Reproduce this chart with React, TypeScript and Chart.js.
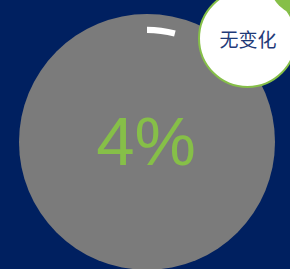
import React, { useEffect, useRef } from "react";
import { Chart, registerables } from "chart.js";

Chart.register(...registerables);

const categories = ["变化", "其余"];
const values = [4, 96];
const centerLabel = "4%";
const badgeLabel = "无变化";

const BG = "#002060";
const GRAY = "#7b7b7b";
const GREEN = "#86bf48";

const discPlugin = {
  id: "disc",
  beforeDatasetsDraw(chart: any) {
    const { ctx, chartArea } = chart;
    const cx = (chartArea.left + chartArea.right) / 2;
    const cy = (chartArea.top + chartArea.bottom) / 2;
    const r = Math.min(chartArea.width, chartArea.height) / 2;
    ctx.save();
    ctx.beginPath();
    ctx.arc(cx, cy, r, 0, Math.PI * 2);
    ctx.fillStyle = GRAY;
    ctx.fill();
    ctx.restore();
  },
};

export default function App() {
  const ref = useRef<HTMLCanvasElement>(null);
  useEffect(() => {
    const chart = new Chart(ref.current!, {
      type: "doughnut",
      data: {
        labels: categories,
        datasets: [
          {
            data: values,
            backgroundColor: ["#ffffff", "rgba(0,0,0,0)"],
            borderWidth: 0,
            radius: "90%",
            cutout: "94.6%",
          } as any,
        ],
      },
      options: {
        animation: false,
        responsive: false,
        maintainAspectRatio: false,
        layout: { padding: 0 },
        plugins: { legend: { display: false }, tooltip: { enabled: false } },
      },
      plugins: [discPlugin],
    });
    return () => chart.destroy();
  }, []);

  return (
    <div
      style={{
        position: "fixed",
        left: 0,
        top: 0,
        width: 290,
        height: 269,
        background: BG,
        overflow: "hidden",
      }}
    >
      <canvas
        ref={ref}
        width={256}
        height={256}
        style={{ position: "absolute", left: 19, top: 14, width: 256, height: 256 }}
      />
      <div
        style={{
          position: "absolute",
          left: 46,
          top: 142 - 50,
          width: 200,
          height: 100,
          display: "flex",
          alignItems: "center",
          justifyContent: "center",
          color: GREEN,
          fontFamily: "'Liberation Sans', Arial, sans-serif",
          fontSize: 69,
          lineHeight: "100px",
        }}
      >
        {centerLabel}
      </div>
      <div
        style={{
          position: "absolute",
          left: 198,
          top: -11,
          width: 99,
          height: 99,
          boxSizing: "border-box",
          borderRadius: "50%",
          background: "#ffffff",
          border: `2px solid ${GREEN}`,
          display: "flex",
          alignItems: "center",
          justifyContent: "center",
          color: "#1f3a78",
          fontFamily: "'Noto Sans CJK SC', sans-serif",
          fontSize: 19,
        }}
      >
        <span style={{ marginLeft: 1, marginTop: 0 }}>{badgeLabel}</span>
      </div>
      <div
        style={{
          position: "absolute",
          left: 303.5 - 35,
          top: -19.5 - 35,
          width: 70,
          height: 70,
          borderRadius: "50%",
          background: GREEN,
        }}
      />
    </div>
  );
}
